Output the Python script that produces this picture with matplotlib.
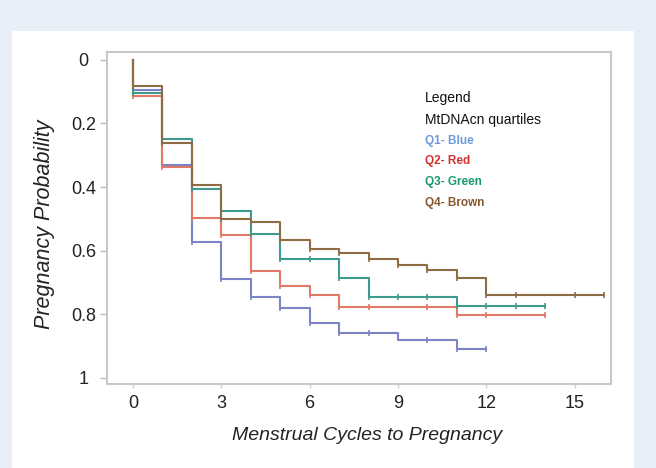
import numpy as np
import matplotlib
matplotlib.use("Agg")
from matplotlib import pyplot as plt
from matplotlib.patches import Rectangle

plt.rcParams['font.family'] = ['Liberation Sans', 'DejaVu Sans']

# Kaplan-Meier style curves, value after each menstrual cycle (0, 1, 2, ...)
q1_blue = [0.094, 0.331, 0.573, 0.688, 0.745, 0.780, 0.829, 0.859, 0.859,
           0.880, 0.880, 0.909, 0.909]
q2_red = [0.115, 0.337, 0.497, 0.550, 0.665, 0.711, 0.740, 0.779, 0.779,
          0.779, 0.779, 0.802, 0.802, 0.802, 0.802]
q3_green = [0.104, 0.250, 0.406, 0.476, 0.549, 0.627, 0.627, 0.685, 0.745,
            0.745, 0.745, 0.773, 0.773, 0.773, 0.773]
q4_brown = [0.083, 0.260, 0.393, 0.501, 0.511, 0.566, 0.595, 0.609, 0.627,
            0.644, 0.661, 0.685, 0.740, 0.740, 0.740, 0.740, 0.740]

# cycles where a censor tick is drawn
q1_marks = [0, 1, 2, 3, 4, 5, 6, 7, 8, 10, 11, 12]
q2_marks = [0, 1, 2, 3, 4, 5, 6, 7, 8, 10, 11, 12, 14]
q3_marks = list(range(0, 15))
q4_marks = list(range(0, 14)) + [15, 16]

xticks = [0, 3, 6, 9, 12, 15]
yticks = [0, 0.2, 0.4, 0.6, 0.8, 1]
ytick_labels = ['0', '0.2', '0.4', '0.6', '0.8', '1']

legend_lines = ['Legend', 'MtDNAcn quartiles']
legend_items = ['Q1- Blue', 'Q2- Red', 'Q3- Green', 'Q4- Brown']

line_colors = ['#7b84c6', '#e07a66', '#3e9a8c', '#8e6d45']
text_colors = ['#6e9bd9', '#d2322d', '#1a9a6c', '#86592d']

W, H = 656, 468
fig = plt.figure(figsize=(W / 100, H / 100), dpi=100)
fig.patch.set_facecolor('#e8eff9')
# white panel
fig.patches.append(Rectangle((12 / W, 0), (634 - 12) / W, (H - 31) / H,
                             transform=fig.transFigure, facecolor='white',
                             edgecolor='none', zorder=-10))

ax = fig.add_axes([107 / W, 1 - 384 / H, (611 - 107) / W, (384 - 52) / H])
ax.set_zorder(1)
ax.set_facecolor('white')

series = [(q1_blue, q1_marks), (q2_red, q2_marks),
          (q3_green, q3_marks), (q4_brown, q4_marks)]
for (vals, marks), col in zip(series, line_colors):
    x = [0] + list(range(len(vals)))
    y = [0] + vals
    ax.plot(x, y, drawstyle='steps-post', color=col, linewidth=1.5)
    ax.plot(marks, [vals[m] for m in marks], linestyle='none', marker='|',
            markersize=5, markeredgewidth=1.2, color=col)

ax.set_xlim(-0.88, 16.23)
ax.set_ylim(1.02, -0.025)
ax.set_xticks(xticks)
ax.set_yticks(yticks)
ax.set_yticklabels(ytick_labels)

for s in ax.spines.values():
    s.set_color('#c9c9c9')
    s.set_linewidth(1.5)

ax.tick_params(axis='y', length=5, width=1, color='#bdbdbd', labelsize=13,
               labelcolor='#222222', pad=12)
ax.tick_params(axis='x', length=3, width=1, color='#d0d0d0', labelsize=13,
               labelcolor='#222222', pad=5)
for lab in ax.get_yticklabels():
    lab.set_horizontalalignment('center')

fig.text(367 / W, 1 - 436 / H, 'Menstrual Cycles to Pregnancy',
         fontsize=14, style='italic', color='#222222',
         ha='center', va='center')
fig.text(45 / W, 1 - 224 / H, 'Pregnancy Probability', fontsize=15.5,
         style='italic', color='#222222', rotation=90,
         ha='center', va='center')

# legend drawn as text
ys = [98, 120]
for txt, yy in zip(legend_lines, ys):
    fig.text(425 / W, 1 - yy / H, txt, fontsize=10, color='#111111',
             ha='left', va='center', zorder=5)
ys = [141, 161, 182, 203]
for txt, yy, col in zip(legend_items, ys, text_colors):
    fig.text(425 / W, 1 - yy / H, txt, fontsize=8.5, fontweight='bold',
             color=col, ha='left', va='center', zorder=5)

plt.savefig('out.png', dpi=100, facecolor=fig.get_facecolor())
